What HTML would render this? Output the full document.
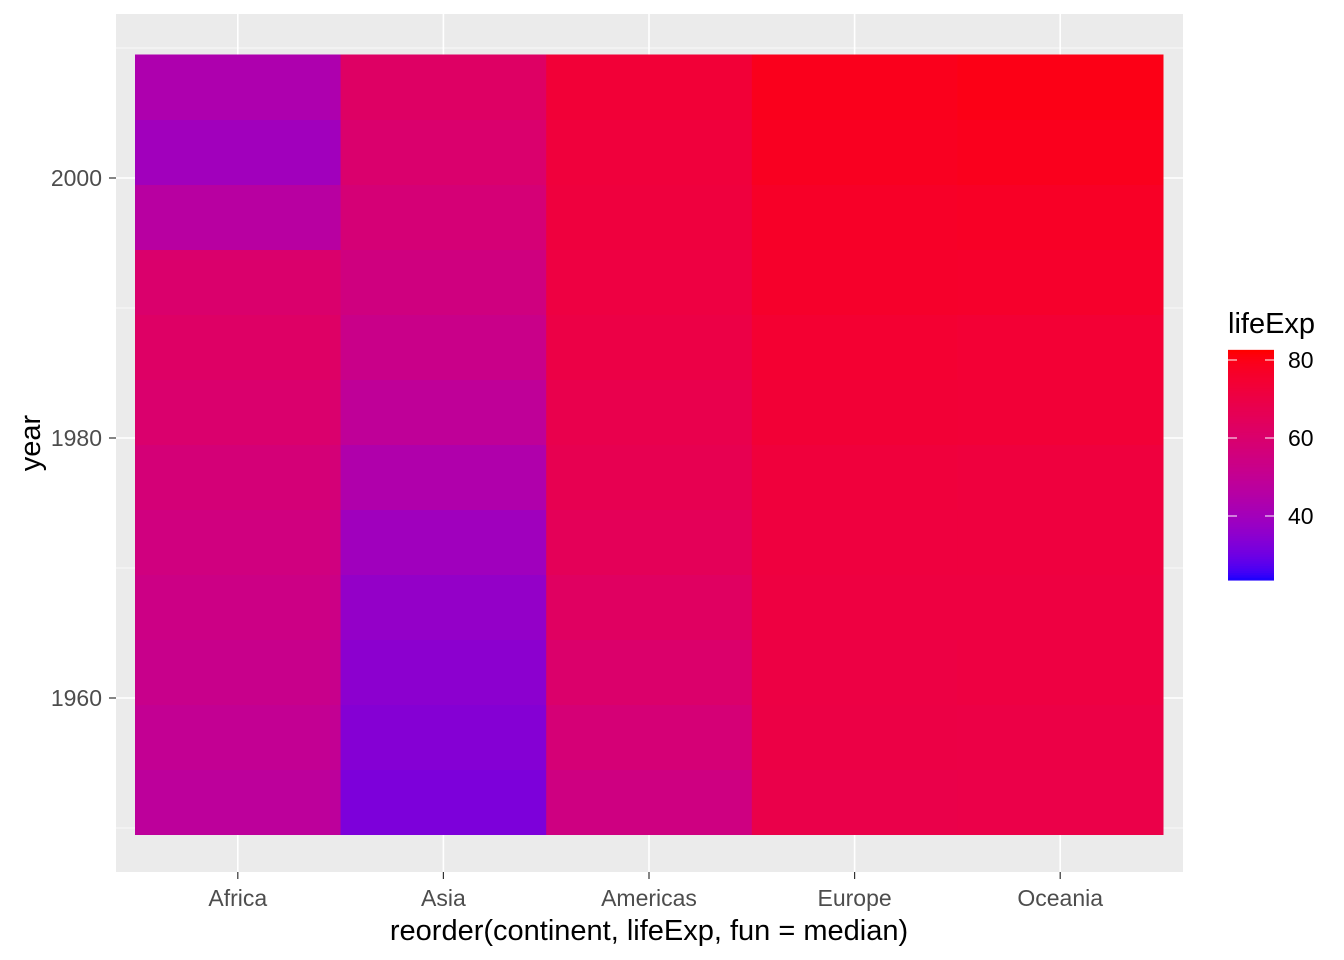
<!DOCTYPE html>
<html><head><meta charset="utf-8"><style>
body{margin:0;background:#fff;}
svg{display:block;font-family:"Liberation Sans",Arial,sans-serif;}
</style></head><body>
<svg id="chart" width="1344" height="960"></svg>
<script>
const continents = ["Africa","Asia","Americas","Europe","Oceania"];
const years = [1952,1957,1962,1967,1972,1977,1982,1987,1992,1997,2002,2007];
const lifeAfrica = [48.451,50.469,52.358,53.995,55.635,57.674,60.363,62.351,60.377,46.809,39.989,43.487];
const lifeAsia = [32.548,33.97,35.18,36.984,39.848,44.175,49.113,52.922,55.599,58.02,60.308,62.698];
const lifeAmericas = [55.088,57.907,60.77,63.479,65.712,67.456,68.557,70.19,71.15,72.146,72.766,73.747];
const lifeEurope = [69.18,70.42,70.76,71.36,72.01,72.76,74.04,75.007,76.42,77.218,78.471,79.425];
const lifeOceania = [69.39,70.26,71.24,71.52,71.89,72.22,73.84,74.32,76.33,77.55,79.11,80.204];
const yTicks = [1960,1980,2000];
const yMinor = [1950,1970,1990,2010];
const legendTicks = [40,60,80];
const fillLimits = [23.599,82.603];

const series=[lifeAfrica,lifeAsia,lifeAmericas,lifeEurope,lifeOceania];
const NS="http://www.w3.org/2000/svg";
const svg=document.getElementById('chart');
function mk(tag,attrs,parent){const e=document.createElementNS(NS,tag);for(const k in attrs)e.setAttribute(k,attrs[k]);(parent||svg).appendChild(e);return e;}
const xBand=i=>135+i*205.6;
const bandW=205.6;
const yS=y=>178+(2000-y)*13;
function srgb2lin(c){c/=255;return c<=0.04045?c/12.92:Math.pow((c+0.055)/1.055,2.4);}
function lin2srgb(c){c=c<=0.0031308?12.92*c:1.055*Math.pow(c,1/2.4)-0.055;return Math.max(0,Math.min(255,Math.round(c*255)));}
const Xn=0.95047,Yn=1,Zn=1.08883;
function f(t){return t>0.008856?Math.cbrt(t):7.787*t+16/116;}
function fi(t){return t>0.206893?t*t*t:(t-16/116)/7.787;}
function toLab(r,g,b){r=srgb2lin(r);g=srgb2lin(g);b=srgb2lin(b);
const X=0.4124*r+0.3576*g+0.1805*b,Y=0.2126*r+0.7152*g+0.0722*b,Z=0.0193*r+0.1192*g+0.9505*b;
const fx=f(X/Xn),fy=f(Y/Yn),fz=f(Z/Zn);return [116*fy-16,500*(fx-fy),200*(fy-fz)];}
function fromLab(L,a,b){const fy=(L+16)/116,fx=fy+a/500,fz=fy-b/200;
const X=Xn*fi(fx),Y=Yn*fi(fy),Z=Zn*fi(fz);
const r=3.2406*X-1.5372*Y-0.4986*Z,g=-0.9689*X+1.8758*Y+0.0415*Z,bb=0.0557*X-0.2040*Y+1.0570*Z;
return `rgb(${lin2srgb(r)},${lin2srgb(g)},${lin2srgb(bb)})`;}
const labLo=toLab(0,0,255),labHi=toLab(255,0,0);
function col(v){let t=(v-fillLimits[0])/(fillLimits[1]-fillLimits[0]);t=Math.max(0,Math.min(1,t));
return fromLab(labLo[0]+(labHi[0]-labLo[0])*t,labLo[1]+(labHi[1]-labLo[1])*t,labLo[2]+(labHi[2]-labLo[2])*t);}

const panel=mk('rect',{x:116,y:14,width:1067,height:858,fill:'#EBEBEB'});


yMinor.forEach(y=>{const l=mk('line',{x1:116,x2:1183,y1:yS(y),y2:yS(y),stroke:'#fff','stroke-width':0.8});

});
yTicks.forEach(y=>{const l=mk('line',{x1:116,x2:1183,y1:yS(y),y2:yS(y),stroke:'#fff','stroke-width':1.6});

});
continents.forEach((c,i)=>{const x=xBand(i)+bandW/2;const l=mk('line',{x1:x,x2:x,y1:14,y2:872,stroke:'#fff','stroke-width':1.6});

});
continents.forEach((c,i)=>{years.forEach((y,j)=>{
const r=mk('rect',{x:xBand(i),y:yS(y)-32.5,width:bandW+0.5,height:65.5,fill:col(series[i][j])});

});});
yTicks.forEach(y=>{const t=mk('line',{x1:109,x2:116,y1:yS(y),y2:yS(y),stroke:'#333','stroke-width':1.2});


const tx=mk('text',{x:102,y:yS(y)+8,'text-anchor':'end',style:'font-size:23px',fill:'#4D4D4D'});tx.textContent=y;

});
continents.forEach((c,i)=>{const x=xBand(i)+bandW/2;
const t=mk('line',{x1:x,x2:x,y1:872,y2:879,stroke:'#333','stroke-width':1.2});


const tx=mk('text',{x:x,y:906,'text-anchor':'middle',style:'font-size:23px',fill:'#4D4D4D'});tx.textContent=c;

});
let tt=mk('text',{x:649,y:940,'text-anchor':'middle',style:'font-size:29px',fill:'#000'});tt.textContent='reorder(continent, lifeExp, fun = median)';


tt=mk('text',{x:0,y:0,'text-anchor':'middle',style:'font-size:29px',fill:'#000',transform:'translate(40,443) rotate(-90)'});tt.textContent='year';


tt=mk('text',{x:1228,y:333,style:'font-size:29px',fill:'#000'});tt.textContent='lifeExp';


const lx=1228,lw=46;const lv=v=>360+(80-v)*3.9;
const barTop=lv(fillLimits[1]),barBot=lv(fillLimits[0]);
const g=mk('g',{});


for(let k=0;k<100;k++){const v0=fillLimits[1]-(fillLimits[1]-fillLimits[0])*k/100;
const y0=barTop+(barBot-barTop)*k/100;mk('rect',{x:lx,y:y0,width:lw,height:(barBot-barTop)/100+0.6,fill:col(v0)},g);}
legendTicks.forEach(v=>{mk('line',{x1:lx,x2:lx+9,y1:lv(v),y2:lv(v),stroke:'#fff','stroke-width':1},g);
mk('line',{x1:lx+lw-9,x2:lx+lw,y1:lv(v),y2:lv(v),stroke:'#fff','stroke-width':1},g);
const tx=mk('text',{x:1288,y:lv(v)+8,style:'font-size:23px',fill:'#000'});tx.textContent=v;

});
</script>
</body></html>
